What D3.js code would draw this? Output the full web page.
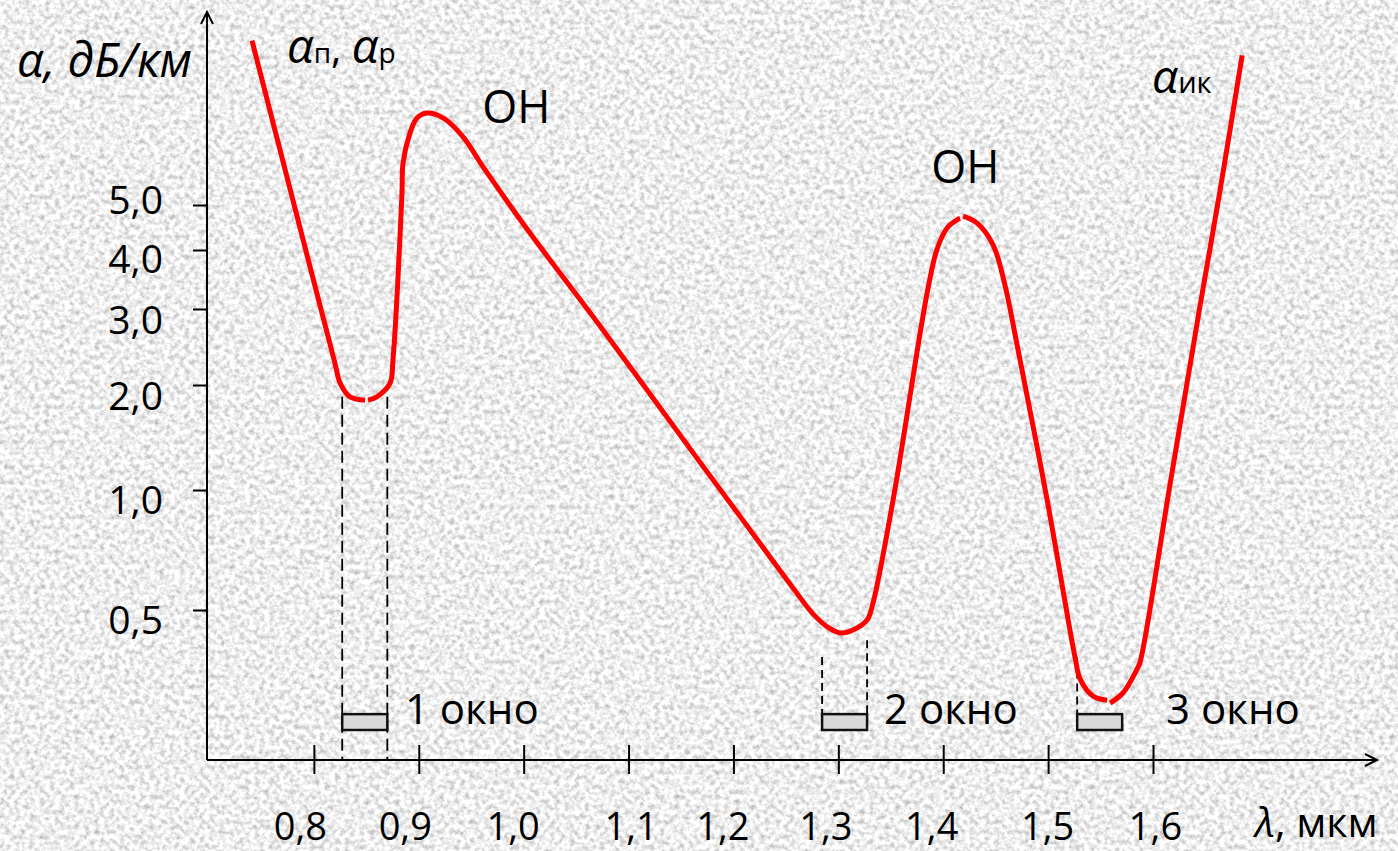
<!DOCTYPE html>
<html><head><meta charset="utf-8">
<script src="https://cdn.jsdelivr.net/npm/d3@7"></script>
<style>
html,body{margin:0;padding:0;background:#ebebeb;overflow:hidden}
svg{display:block}
text{font-family:"Open Sans",sans-serif;fill:#000}
</style></head><body>
<svg id="chart" width="1398" height="851"></svg>
<script>
// ---------------- DATA ----------------
const xTickValues = [0.8, 0.9, 1.0, 1.1, 1.2, 1.3, 1.4, 1.5, 1.6];
const xTickLabels = ["0,8", "0,9", "1,0", "1,1", "1,2", "1,3", "1,4", "1,5", "1,6"];
const yTickValues = [0.5, 1, 2, 3, 4, 5];
const yTickLabels = ["0,5", "1,0", "2,0", "3,0", "4,0", "5,0"];

// attenuation curve α(λ), [λ мкм, α дБ/км], drawn as four pieces (as in the original)
const curvePiece1 = [[0.741, 11.3], [0.777, 5.44], [0.820, 2.25], [0.825, 2.02], [0.8345, 1.85], [0.8488, 1.81]];
const curvePiece2 = [[0.8516, 1.81], [0.860, 1.85], [0.8726, 2.02], [0.8754, 2.29], [0.884, 5.31], [0.885, 6.16],
  [0.8917, 7.15], [0.8983, 7.70], [0.9079, 7.89], [0.9231, 7.70], [0.9422, 7.01], [0.9613, 6.04], [1.006, 4.35],
  [1.0728, 2.74], [1.1682, 1.20], [1.2159, 0.794], [1.254, 0.581], [1.2759, 0.489], [1.2909, 0.4507],
  [1.3017, 0.438], [1.314, 0.4455], [1.3274, 0.472], [1.3331, 0.521], [1.3522, 0.944], [1.3846, 3.24],
  [1.3942, 4.02], [1.4037, 4.46], [1.4142, 4.66], [1.4161, 4.68]];
const curvePiece3 = [[1.4190, 4.73], [1.4323, 4.57], [1.4476, 4.10], [1.459, 3.36], [1.4704, 2.48], [1.4991, 0.944],
  [1.5258, 0.379], [1.5305, 0.336], [1.5429, 0.304], [1.5563, 0.297]];
const curvePiece4 = [[1.5591, 0.292], [1.5715, 0.310], [1.5849, 0.356], [1.5877, 0.370], [1.6163, 1.04],
  [1.645, 3.06], [1.664, 5.39], [1.685, 10.5]];

// transparency windows
const windowStart = [0.827, 1.2845, 1.5277];
const windowEnd = [0.870, 1.3274, 1.5706];
const windowLabels = ["1 окно", "2 окно", "3 окно"];
const windowLabelLambda = [0.8868, 1.3435, 1.6124];
const windowBarAlpha = [0.25, 0.274];
// dashed guides: λ, top α, whether they reach the λ axis
const guideLambda = [0.827, 0.870, 1.2845, 1.3274, 1.5277];
const guideTopAlpha = [1.85, 1.85, 0.381, 0.42, 0.38];
const guideToAxis = [true, true, false, false, false];

// annotations
const ohLabels = ["ОН", "ОН"];
const ohLambda = [0.993, 1.421];
const ohAlpha = [7.51, 5.58];

// ---------------- LAYOUT ----------------
const W = 1398, H = 851;
const axisX = 207, axisY = 760, axisTop = 12, axisRight = 1377;
const yTickHeights = [150, 270, 375, 451, 510, 555];   // tick heights above λ axis (hand-drawn scale)
const xLabelShift = [-14, -14, -11, 2, -11, -13, -12, -1, 2];
const yLabelShift = [23, 23, 24, 24, 22, 8];

const svg = d3.select("#chart");
const defs = svg.append("defs");
const f = defs.append("filter").attr("id", "noise").attr("x", 0).attr("y", 0)
  .attr("width", "100%").attr("height", "100%").attr("color-interpolation-filters", "sRGB");
f.append("feTurbulence").attr("type", "fractalNoise").attr("baseFrequency", 0.2)
  .attr("numOctaves", 3).attr("seed", 7).attr("result", "t");
f.append("feColorMatrix").attr("in", "t").attr("type", "matrix")
  .attr("values", "0.55 0 0 0 0.66  0.55 0 0 0 0.66  0.55 0 0 0 0.66  0 0 0 0 1");
svg.append("rect").attr("width", W).attr("height", H).attr("filter", "url(#noise)");

const x = d3.scaleLinear().domain([0.7, 1.6]).range([209, 1153]);
const y = d3.scaleLinear().domain(yTickValues.map(Math.log10)).range(yTickHeights.map(h => axisY - h));
const Y = a => y(Math.log10(a));

// axes lines with arrows
const ax = svg.append("g").attr("stroke", "#000").attr("stroke-width", 2).attr("fill", "none");
ax.append("line").attr("x1", axisX).attr("y1", axisY).attr("x2", axisX).attr("y2", axisTop);
ax.append("path").attr("d", `M${axisX - 6},${axisTop + 12}L${axisX},${axisTop}L${axisX + 6},${axisTop + 12}`);
ax.append("line").attr("x1", axisX).attr("y1", axisY).attr("x2", axisRight).attr("y2", axisY);
ax.append("path").attr("d", `M${axisRight - 12},${axisY - 6}L${axisRight},${axisY}L${axisRight - 12},${axisY + 6}`);

// x axis ticks + labels
const gx = svg.append("g").attr("transform", `translate(0,${axisY})`)
  .call(d3.axisBottom(x).tickValues(xTickValues).tickFormat((d, i) => xTickLabels[i]).tickSizeOuter(0));
gx.select(".domain").remove();
gx.selectAll(".tick line").attr("y1", -15).attr("y2", 14).attr("stroke", "#000").attr("stroke-width", 2);
gx.selectAll(".tick text").attr("y", 80).attr("dy", 0).attr("dx", (d, i) => xLabelShift[i])
  .style("font-size", "38px").style("font-family", "'Open Sans',sans-serif").attr("fill", "#000");

// y axis ticks + labels
const gy = svg.append("g").attr("transform", `translate(${axisX},0)`)
  .call(d3.axisLeft(y).tickValues(yTickValues.map(Math.log10)).tickFormat((d, i) => yTickLabels[i]).tickSizeOuter(0).tickSizeInner(14));
gy.select(".domain").remove();
gy.selectAll(".tick line").attr("stroke", "#000").attr("stroke-width", 2);
gy.selectAll(".tick text").attr("x", -44).attr("dy", 0).attr("y", (d, i) => yLabelShift[i])
  .style("font-size", "39px").style("font-family", "'Open Sans',sans-serif").attr("fill", "#000");

// dashed guides
guideLambda.forEach((l, i) => {
  svg.append("line").attr("x1", x(l)).attr("x2", x(l))
    .attr("y1", Y(guideTopAlpha[i])).attr("y2", guideToAxis[i] ? axisY : Y(windowBarAlpha[1]))
    .attr("stroke", "#000").attr("stroke-width", 1.8)
    .attr("stroke-dasharray", guideToAxis[i] ? "12,6" : "8,5");
});

// window bars
svg.selectAll("rect.win").data(windowStart).join("rect").attr("class", "win")
  .attr("x", (d) => x(d)).attr("width", (d, i) => x(windowEnd[i]) - x(d))
  .attr("y", Y(windowBarAlpha[1])).attr("height", Y(windowBarAlpha[0]) - Y(windowBarAlpha[1]))
  .attr("fill", "#d9d9d9").attr("stroke", "#111").attr("stroke-width", 2.5);
svg.selectAll("text.win").data(windowLabels).join("text").attr("class", "win")
  .attr("x", (d, i) => x(windowLabelLambda[i])).attr("y", Y(windowBarAlpha[0]) - 6)
  .style("font-size", "42px").text(d => d);

// curve
const line = d3.line().x(d => x(d[0])).y(d => Y(d[1])).curve(d3.curveCatmullRom.alpha(0.5));
[curvePiece1, curvePiece2, curvePiece3, curvePiece4].forEach(p => {
  svg.append("path").attr("d", line(p)).attr("fill", "none").attr("stroke", "#ff0000")
    .attr("stroke-width", 5).attr("stroke-linejoin", "round");
});

// OH labels
ohLabels.forEach((t, i) => {
  svg.append("text").attr("x", x(ohLambda[i])).attr("y", Y(ohAlpha[i])).attr("text-anchor", "middle")
    .style("font-size", "45px").text(t);
});

// series labels
const s1 = svg.append("text").attr("x", 287).attr("y", 63);
s1.append("tspan").style("font-size", "47px").style("font-style", "italic").text("α");
s1.append("tspan").style("font-size", "28px").text("п");
s1.append("tspan").style("font-size", "40px").text(", ");
s1.append("tspan").style("font-size", "47px").style("font-style", "italic").text("α");
s1.append("tspan").style("font-size", "28px").text("р");
const s2 = svg.append("text").attr("x", 1152).attr("y", 93);
s2.append("tspan").style("font-size", "46px").style("font-style", "italic").text("α");
s2.append("tspan").style("font-size", "29px").text("ик");

// axis titles
svg.append("text").attr("x", 17).attr("y", 77).style("font-size", "47px").style("font-style", "italic").text("α, дБ/км");
const xt = svg.append("text").attr("x", 1255).attr("y", 837).style("font-size", "41px");
xt.append("tspan").style("font-style", "italic").text("λ");
xt.append("tspan").text(", мкм");
</script>
</body></html>
